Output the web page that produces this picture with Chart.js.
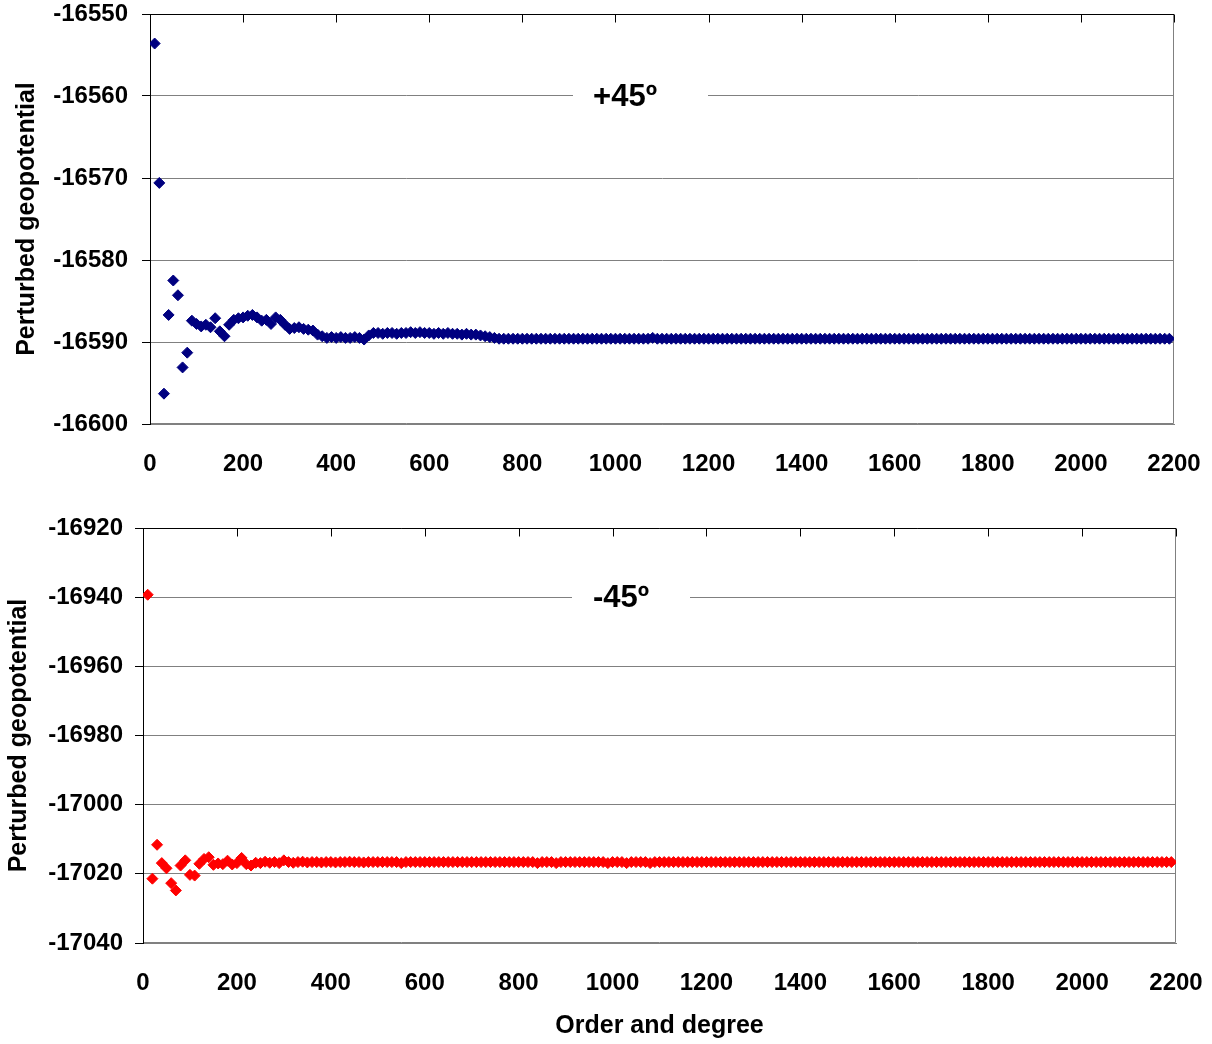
<!DOCTYPE html>
<html>
<head>
<meta charset="utf-8">
<script src="https://cdn.jsdelivr.net/npm/chart.js@4/dist/chart.umd.min.js"></script>
<style>
  html, body { margin: 0; padding: 0; background: #ffffff; }
  #wrap { position: relative; width: 1212px; height: 1044px; background: #ffffff; }
  canvas { position: absolute; left: 0; }
</style>
</head>
<body>
<div id="wrap">
  <canvas id="top" width="1212" height="490" style="top:0px"></canvas>
  <canvas id="bottom" width="1212" height="554" style="top:490px"></canvas>
</div>
<script>
// ---- DATA ----
const degrees = [
  10, 20, 30, 40, 50, 60, 70, 80, 90,
  100, 110, 120, 130, 140, 150, 160, 170, 180, 190,
  200, 210, 220, 230, 240, 250, 260, 270, 280, 290,
  300, 310, 320, 330, 340, 350, 360, 370, 380, 390,
  400, 410, 420, 430, 440, 450, 460, 470, 480, 490,
  500, 510, 520, 530, 540, 550, 560, 570, 580, 590,
  600, 610, 620, 630, 640, 650, 660, 670, 680, 690,
  700, 710, 720, 730, 740, 750, 760, 770, 780, 790,
  800, 810, 820, 830, 840, 850, 860, 870, 880, 890,
  900, 910, 920, 930, 940, 950, 960, 970, 980, 990,
  1000, 1010, 1020, 1030, 1040, 1050, 1060, 1070, 1080, 1090,
  1100, 1110, 1120, 1130, 1140, 1150, 1160, 1170, 1180, 1190,
  1200, 1210, 1220, 1230, 1240, 1250, 1260, 1270, 1280, 1290,
  1300, 1310, 1320, 1330, 1340, 1350, 1360, 1370, 1380, 1390,
  1400, 1410, 1420, 1430, 1440, 1450, 1460, 1470, 1480, 1490,
  1500, 1510, 1520, 1530, 1540, 1550, 1560, 1570, 1580, 1590,
  1600, 1610, 1620, 1630, 1640, 1650, 1660, 1670, 1680, 1690,
  1700, 1710, 1720, 1730, 1740, 1750, 1760, 1770, 1780, 1790,
  1800, 1810, 1820, 1830, 1840, 1850, 1860, 1870, 1880, 1890,
  1900, 1910, 1920, 1930, 1940, 1950, 1960, 1970, 1980, 1990,
  2000, 2010, 2020, 2030, 2040, 2050, 2060, 2070, 2080, 2090,
  2100, 2110, 2120, 2130, 2140, 2150, 2160, 2170, 2180, 2190
];

const plus45 = [
  -16553.6, -16570.6, -16596.3, -16586.7, -16582.5, -16584.3, -16593.1, -16591.3, -16587.4,
  -16587.8, -16588.1, -16587.9, -16588.2, -16587.1, -16588.7, -16589.3, -16587.9, -16587.3, -16587.1,
  -16587.0, -16586.8, -16586.7, -16587.0, -16587.4, -16587.3, -16587.8, -16587.0, -16587.3, -16587.9,
  -16588.4, -16588.3, -16588.2, -16588.4, -16588.5, -16588.6, -16589.1, -16589.3, -16589.5, -16589.4,
  -16589.5, -16589.4, -16589.5, -16589.5, -16589.4, -16589.5, -16589.7, -16589.2, -16588.9, -16588.9,
  -16589.0, -16588.9, -16588.9, -16589.0, -16588.9, -16588.9, -16588.8, -16588.9, -16588.8, -16588.9,
  -16588.9, -16589.0, -16588.9, -16589.0, -16588.9, -16589.0, -16589.0, -16589.1, -16589.0, -16589.1,
  -16589.1, -16589.2, -16589.3, -16589.4, -16589.5, -16589.6, -16589.6, -16589.6, -16589.6, -16589.6,
  -16589.6, -16589.6, -16589.6, -16589.6, -16589.6, -16589.6, -16589.6, -16589.6, -16589.6, -16589.6,
  -16589.6, -16589.6, -16589.6, -16589.6, -16589.6, -16589.6, -16589.6, -16589.6, -16589.6, -16589.6,
  -16589.6, -16589.6, -16589.6, -16589.6, -16589.6, -16589.6, -16589.6, -16589.6, -16589.5, -16589.6,
  -16589.6, -16589.6, -16589.6, -16589.6, -16589.6, -16589.6, -16589.6, -16589.6, -16589.6, -16589.6,
  -16589.6, -16589.6, -16589.6, -16589.6, -16589.6, -16589.6, -16589.6, -16589.6, -16589.6, -16589.6,
  -16589.6, -16589.6, -16589.6, -16589.6, -16589.6, -16589.6, -16589.6, -16589.6, -16589.6, -16589.6,
  -16589.6, -16589.6, -16589.6, -16589.6, -16589.6, -16589.6, -16589.6, -16589.6, -16589.6, -16589.6,
  -16589.6, -16589.6, -16589.6, -16589.6, -16589.6, -16589.6, -16589.6, -16589.6, -16589.6, -16589.6,
  -16589.6, -16589.6, -16589.6, -16589.6, -16589.6, -16589.6, -16589.6, -16589.6, -16589.6, -16589.6,
  -16589.6, -16589.6, -16589.6, -16589.6, -16589.6, -16589.6, -16589.6, -16589.6, -16589.6, -16589.6,
  -16589.6, -16589.6, -16589.6, -16589.6, -16589.6, -16589.6, -16589.6, -16589.6, -16589.6, -16589.6,
  -16589.6, -16589.6, -16589.6, -16589.6, -16589.6, -16589.6, -16589.6, -16589.6, -16589.6, -16589.6,
  -16589.6, -16589.6, -16589.6, -16589.6, -16589.6, -16589.6, -16589.6, -16589.6, -16589.6, -16589.6,
  -16589.6, -16589.6, -16589.6, -16589.6, -16589.6, -16589.6, -16589.6, -16589.6, -16589.6, -16589.6
];

const minus45 = [
  -16939.3, -17021.4, -17011.6, -17016.9, -17018.4, -17022.7, -17024.8, -17017.6, -17016.1,
  -17020.3, -17020.5, -17017.1, -17015.7, -17015.2, -17017.4, -17017.0, -17017.2, -17016.2, -17017.3,
  -17016.9, -17015.4, -17017.2, -17017.6, -17016.8, -17016.9, -17016.5, -17016.8, -17016.6, -17016.9,
  -17016.1, -17016.6, -17016.8, -17016.6, -17016.5, -17016.7, -17016.6, -17016.6, -17016.7, -17016.6,
  -17016.6, -17016.7, -17016.6, -17016.6, -17016.5, -17016.6, -17016.6, -17016.7, -17016.6, -17016.6,
  -17016.6, -17016.6, -17016.6, -17016.6, -17016.6, -17016.9, -17016.6, -17016.6, -17016.6, -17016.6,
  -17016.6, -17016.6, -17016.6, -17016.6, -17016.6, -17016.6, -17016.6, -17016.6, -17016.6, -17016.6,
  -17016.6, -17016.6, -17016.6, -17016.6, -17016.6, -17016.6, -17016.6, -17016.6, -17016.6, -17016.6,
  -17016.6, -17016.6, -17016.6, -17016.6, -17016.9, -17016.6, -17016.6, -17016.6, -17016.9, -17016.6,
  -17016.6, -17016.6, -17016.6, -17016.6, -17016.6, -17016.6, -17016.6, -17016.6, -17016.6, -17016.9,
  -17016.6, -17016.6, -17016.6, -17016.9, -17016.6, -17016.6, -17016.6, -17016.6, -17016.9, -17016.6,
  -17016.6, -17016.6, -17016.6, -17016.6, -17016.6, -17016.6, -17016.6, -17016.6, -17016.6, -17016.6,
  -17016.6, -17016.6, -17016.6, -17016.6, -17016.6, -17016.6, -17016.6, -17016.6, -17016.6, -17016.6,
  -17016.6, -17016.6, -17016.6, -17016.6, -17016.6, -17016.6, -17016.6, -17016.6, -17016.6, -17016.6,
  -17016.6, -17016.6, -17016.6, -17016.6, -17016.6, -17016.6, -17016.6, -17016.6, -17016.6, -17016.6,
  -17016.6, -17016.6, -17016.6, -17016.6, -17016.6, -17016.6, -17016.6, -17016.6, -17016.6, -17016.6,
  -17016.6, -17016.6, -17016.6, -17016.6, -17016.6, -17016.6, -17016.6, -17016.6, -17016.6, -17016.6,
  -17016.6, -17016.6, -17016.6, -17016.6, -17016.6, -17016.6, -17016.6, -17016.6, -17016.6, -17016.6,
  -17016.6, -17016.6, -17016.6, -17016.6, -17016.6, -17016.6, -17016.6, -17016.6, -17016.6, -17016.6,
  -17016.6, -17016.6, -17016.6, -17016.6, -17016.6, -17016.6, -17016.6, -17016.6, -17016.6, -17016.6,
  -17016.6, -17016.6, -17016.6, -17016.6, -17016.6, -17016.6, -17016.6, -17016.6, -17016.6, -17016.6,
  -17016.6, -17016.6, -17016.6, -17016.6, -17016.6, -17016.6, -17016.6, -17016.6, -17016.6, -17016.6
];

const xTicksRange = [0, 2200, 200];
const topYRange = [-16600, -16550, 10];
const bottomYRange = [-17040, -16920, 20];
const yTitle = 'Perturbed geopotential';
const xTitle = 'Order and degree';
const topLabel = '+45º';
const bottomLabel = '-45º';

// ---- RENDERING ----
Chart.defaults.font.family = '"Liberation Sans", Arial, sans-serif';
Chart.defaults.color = '#000000';

function line(ctx, x1, y1, x2, y2) {
  ctx.beginPath();
  ctx.moveTo(x1, y1);
  ctx.lineTo(x2, y2);
  ctx.stroke();
}

function zeroPad(s) {
  s.paddingTop = 0; s.paddingBottom = 0; s.paddingLeft = 0; s.paddingRight = 0;
}

const framePlugin = {
  id: 'excelFrame',
  beforeDatasetsDraw(chart, args, opts) {
    const { ctx, chartArea: a, scales } = chart;
    const L = Math.round(a.left) + 0.5, R = Math.round(a.right) - 0.5;
    const T = Math.round(a.top) + 0.5, B = Math.round(a.bottom) - 0.5;
    ctx.save();
    ctx.lineWidth = 1;
    ctx.strokeStyle = '#808080';
    line(ctx, R, T, R, B);
    line(ctx, L, B, R, B);
    ctx.strokeStyle = '#000000';
    line(ctx, L - 0.5, T, R + 0.5, T);
    line(ctx, L, T, L, B + 0.5);
    scales.x.ticks.forEach(t => {
      const px = Math.round(scales.x.getPixelForValue(t.value)) + 0.5;
      line(ctx, px, T, px, T + 8);
    });
    // text box on a gridline
    const y = scales.y.getPixelForValue(opts.gridValue);
    ctx.fillStyle = '#ffffff';
    ctx.fillRect(opts.boxLeft, y - 17, opts.boxRight - opts.boxLeft, 34);
    ctx.fillStyle = '#000000';
    ctx.font = 'bold 31px "Liberation Sans", Arial, sans-serif';
    ctx.textAlign = 'center';
    ctx.textBaseline = 'middle';
    ctx.fillText(opts.label, opts.textX, y + 1);
    ctx.restore();
  }
};

function makeChart(id, values, color, yRange, cfg) {
  const pts = degrees.map((d, i) => ({ x: d, y: values[i] }));
  return new Chart(document.getElementById(id), {
    type: 'scatter',
    data: {
      datasets: [{
        data: pts,
        pointStyle: 'rectRot',
        pointRadius: 5.5,
        pointBorderWidth: 1,
        backgroundColor: color,
        borderColor: color,
        showLine: false
      }]
    },
    options: {
      responsive: false,
      animation: false,
      devicePixelRatio: 1,
      layout: { padding: { top: cfg.padTop, right: cfg.padRight, left: 0, bottom: 0 } },
      plugins: {
        legend: { display: false },
        tooltip: { enabled: false },
        excelFrame: cfg.annot
      },
      scales: {
        x: {
          type: 'linear',
          position: 'bottom',
          min: xTicksRange[0],
          max: xTicksRange[1],
          ticks: {
            stepSize: xTicksRange[2],
            padding: 26,
            maxRotation: 0,
            autoSkip: false,
            font: { size: 24, weight: 'bold' },
            color: '#000000',
            callback: v => String(v)
          },
          grid: { display: true, drawOnChartArea: false, drawTicks: false },
          border: { display: true, color: '#808080' },
          title: cfg.xTitle ? {
            display: true,
            text: xTitle,
            font: { size: 25, weight: 'bold' },
            color: '#000000',
            padding: { top: 0, bottom: 3 }
          } : { display: false },
          afterFit: s => { s.height = cfg.xHeight; zeroPad(s); }
        },
        y: {
          type: 'linear',
          min: yRange[0],
          max: yRange[1],
          ticks: {
            stepSize: yRange[2],
            padding: cfg.yTickPad,
            font: { size: 24, weight: 'bold' },
            color: '#000000',
            callback: v => String(v)
          },
          grid: { color: '#808080', tickColor: '#000000', tickLength: 8, lineWidth: 1 },
          border: { display: true, color: '#000000' },
          title: {
            display: true,
            text: yTitle,
            font: { size: 25, weight: 'bold' },
            color: '#000000',
            padding: { top: cfg.yTitlePad, bottom: 0 }
          },
          afterFit: s => { s.width = cfg.yWidth; zeroPad(s); }
        }
      }
    },
    plugins: [framePlugin]
  });
}

makeChart('top', plus45, '#000080', topYRange, {
  padTop: 14, padRight: 38, xHeight: 66, yWidth: 150, yTickPad: 14, yTitlePad: 12,
  xTitle: false,
  annot: { label: topLabel, gridValue: -16560, boxLeft: 573, boxRight: 708, textX: 625 }
});

makeChart('bottom', minus45, '#ff0000', bottomYRange, {
  padTop: 38, padRight: 36, xHeight: 101, yWidth: 143, yTickPad: 12, yTitlePad: 4,
  xTitle: true,
  annot: { label: bottomLabel, gridValue: -16940, boxLeft: 572, boxRight: 690, textX: 621 }
});
</script>
</body>
</html>
